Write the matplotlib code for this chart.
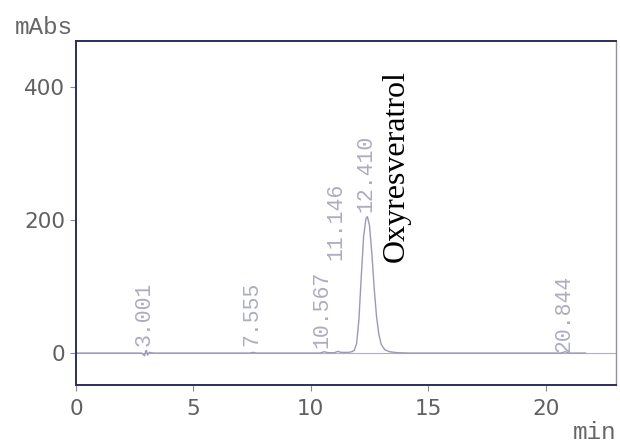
import matplotlib
matplotlib.use("Agg")
import matplotlib.pyplot as plt

# Detector trace (retention time in min, absorbance in mAbs)
time_min = [0.0, 2.80, 2.92, 2.97, 3.00, 3.05, 3.12, 3.30, 7.40, 7.55, 7.70,
            10.40, 10.57, 10.75, 11.00, 11.15, 11.30, 11.60, 11.75, 11.85,
            11.95, 12.05, 12.15, 12.25, 12.35, 12.41, 12.50, 12.60, 12.70,
            12.80, 12.90, 13.00, 13.15, 13.35, 13.70, 14.20, 20.65, 20.84,
            21.00, 21.70]
absorbance = [0.0, 0.0, -4.0, 3.0, 4.0, -3.0, 1.0, 0.0, 0.0, 1.0, 0.0,
              0.0, 2.0, 0.5, 0.5, 2.5, 1.0, 1.0, 2.0, 4.0,
              14.0, 50.0, 115.0, 175.0, 202.0, 205.0, 192.0, 150.0, 98.0,
              55.0, 28.0, 13.0, 5.0, 2.0, 0.5, 0.0, 0.0, 2.0,
              0.0, 0.0]

# Integrated peaks: retention time label and where its text starts (mAbs)
peak_rt = [3.001, 7.555, 10.567, 11.146, 12.410, 20.844]
peak_label_y = [10, 10, 8, 140, 212, 2]

compound_name = "Oxyresveratrol"
compound_pos = (13.66, 137)

x_ticks = [0, 5, 10, 15, 20]
y_ticks = [0, 200, 400]

fig = plt.figure(figsize=(6.2, 4.44), dpi=100)
ax = fig.add_axes([76 / 620, 1 - 385 / 444, 540 / 620, 344 / 444])

frame_color = "#2e2e5c"
trace_color = "#9a9ab6"
label_color = "#adadc0"
tick_color = "#606060"

ax.axhline(0, color="#b0b0c0", lw=0.8, zorder=1)
ax.plot(time_min, absorbance, color=trace_color, lw=1.0, zorder=2)

for rt, ly in zip(peak_rt, peak_label_y):
    ax.text(rt - 0.08, ly, f"{rt:.3f}", rotation=90, ha="center", va="bottom",
            family="Liberation Mono", fontsize=15.5, color=label_color)

ax.text(compound_pos[0], compound_pos[1], compound_name, rotation=90,
        ha="center", va="bottom", family="Liberation Serif", fontsize=23,
        color="black")

ax.set_xlim(0, 23)
ax.set_ylim(-48, 469)
ax.set_xticks(x_ticks)
ax.set_yticks(y_ticks)
ax.set_xticklabels([str(t) for t in x_ticks])
ax.set_yticklabels([str(t) for t in y_ticks])

for side in ["left", "right", "top", "bottom"]:
    ax.spines[side].set_color(frame_color)
    ax.spines[side].set_linewidth(1.4)
ax.spines["right"].set_color("#9090a0")
ax.spines["right"].set_linewidth(1.0)

ax.tick_params(axis="both", direction="out", length=4, width=0.8,
               color="#8a8a9a", labelcolor=tick_color, labelsize=15.5)
ax.tick_params(axis="x", pad=6)
ax.tick_params(axis="y", pad=4)
for lab in ax.get_xticklabels() + ax.get_yticklabels():
    lab.set_family("DejaVu Sans")

fig.text(15 / 620, 1 - 28 / 444, "mAbs", ha="left", va="center",
         family="Liberation Mono", fontsize=17.5, color="#666666")
fig.text(616 / 620, 1 - 432 / 444, "min", ha="right", va="center",
         family="Liberation Mono", fontsize=17.5, color="#666666")

fig.savefig("out.png", dpi=100)
